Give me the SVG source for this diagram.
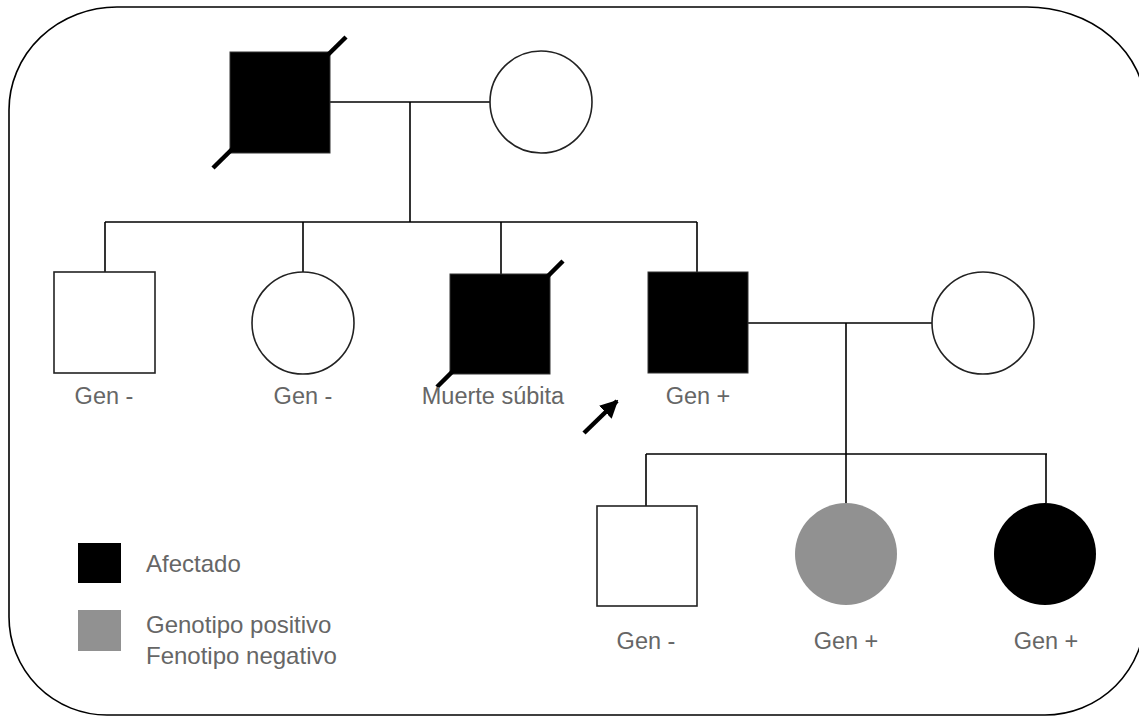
<svg xmlns="http://www.w3.org/2000/svg" width="1139" height="717" viewBox="0 0 1139 717">
<style>
.ln{stroke:#000;stroke-width:1.6;fill:none}
.nd{stroke:#222;stroke-width:1.6;fill:#fff}
.aff{fill:#000;stroke:#333;stroke-width:1}
.gry{fill:#919191}
.sl{stroke:#000;stroke-width:4.5}
.lb{font-family:"Liberation Sans",Arial,sans-serif;font-size:23.5px;fill:#666;text-anchor:middle}
.lg{font-family:"Liberation Sans",Arial,sans-serif;font-size:24px;fill:#666}
</style>
<defs>
<marker id="ah" viewBox="0 0 10 10" refX="9" refY="5" markerWidth="4" markerHeight="4" orient="auto" markerUnits="strokeWidth">
<path d="M0,0 L10,5 L0,10 z" fill="#000"/>
</marker>
</defs>
<path d="M117,7 H1027 A118 100 0 0 1 1145 107 V615 A100 100 0 0 1 1045 715 H107 A98 98 0 0 1 9 617 V110 A108 103 0 0 1 117 7 Z" fill="none" stroke="#000" stroke-width="1.6"/>
<g id="connectors">
<path class="ln" d="M330,102 H490"/>
<path class="ln" d="M410,102 V222"/>
<path class="ln" d="M105,222 H697"/>
<path class="ln" d="M105,222 V272"/>
<path class="ln" d="M303,222 V272"/>
<path class="ln" d="M501,222 V274"/>
<path class="ln" d="M697,222 V272"/>
<path class="ln" d="M748,323 H932"/>
<path class="ln" d="M846,323 V454"/>
<path class="ln" d="M646,454 H1047"/>
<path class="ln" d="M646,454 V506"/>
<path class="ln" d="M846,454 V503"/>
<path class="ln" d="M1046,454 V503"/>
</g>
<g id="grandfather">
<rect class="aff" x="230" y="52" width="100" height="101"/>
<line class="sl" x1="213" y1="168" x2="346" y2="37"/>
</g>
<g id="grandmother"><circle class="nd" cx="541" cy="102" r="51"/></g>
<g id="son1">
<rect class="nd" x="54" y="272" width="101" height="101"/>
<text class="lb" x="104" y="404">Gen -</text>
</g>
<g id="daughter1">
<circle class="nd" cx="303" cy="323" r="51"/>
<text class="lb" x="303" y="404">Gen -</text>
</g>
<g id="son2">
<rect class="aff" x="450" y="274" width="100" height="100"/>
<line class="sl" x1="437" y1="387" x2="563" y2="261"/>
<text class="lb" x="493" y="404">Muerte súbita</text>
</g>
<g id="proband">
<rect class="aff" x="648" y="272" width="100" height="101"/>
<text class="lb" x="698" y="404">Gen +</text>
</g>
<g id="arrow">
<line x1="584" y1="433" x2="617" y2="401" stroke="#000" stroke-width="4.5" marker-end="url(#ah)"/>
</g>
<g id="wife"><circle class="nd" cx="983" cy="323" r="51"/></g>
<g id="child1">
<rect class="nd" x="597" y="506" width="100" height="100"/>
<text class="lb" x="646" y="649">Gen -</text>
</g>
<g id="child2">
<circle class="gry" cx="846" cy="554" r="51"/>
<text class="lb" x="846" y="649">Gen +</text>
</g>
<g id="child3">
<circle fill="#000" cx="1045" cy="554" r="51"/>
<text class="lb" x="1046" y="649">Gen +</text>
</g>
<g id="legend">
<rect x="78" y="543" width="43" height="40" fill="#000"/>
<text class="lg" x="146" y="572">Afectado</text>
<rect x="78" y="610" width="43" height="41" fill="#919191"/>
<text class="lg" x="146" y="633">Genotipo positivo</text>
<text class="lg" x="146" y="664">Fenotipo negativo</text>
</g>
</svg>
